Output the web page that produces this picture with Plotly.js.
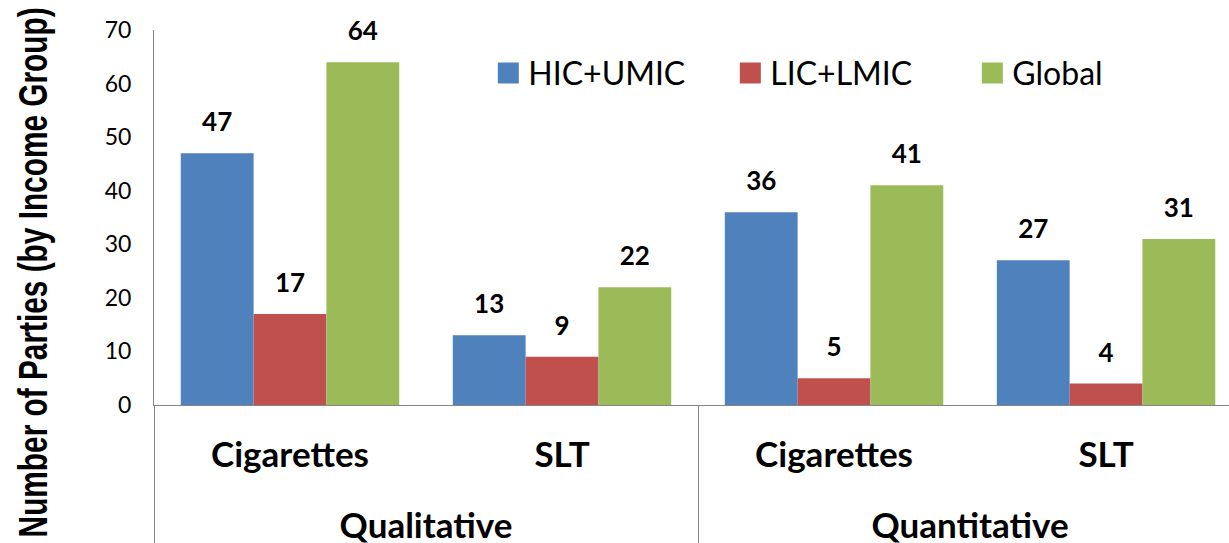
<!DOCTYPE html>
<html>
<head>
<meta charset="utf-8">
<script src="https://cdn.plot.ly/plotly-3.0.1.min.js"></script>
<style>html,body{margin:0;padding:0;background:#fff;}#chart{width:1229px;height:543px;}</style>
</head>
<body>
<div id="chart"></div>
<script>
// ---- data ----
const groups = ['Qualitative', 'Qualitative', 'Quantitative', 'Quantitative'];
const products = ['Cigarettes', 'SLT', 'Cigarettes', 'SLT'];
const seriesNames = ['HIC+UMIC', 'LIC+LMIC', 'Global'];
const hicUmic = [47, 13, 36, 27];
const licLmic = [17, 9, 5, 4];
const globalVals = [64, 22, 41, 31];
const yTitle = 'Number of Parties (by Income Group)';

// ---- styles ----
const colors = ['#4F81BD', '#C0504D', '#9BBB59'];
const axisColor = '#868686';
const mainFont = 'Lato, "Open Sans", sans-serif';
const seriesValues = [hicUmic, licLmic, globalVals];
// an empty second line under each inner label gives the two label rows the reference's spacing
const innerLabels = products.map(p => p + '<br>\u00a0');
const xCats = [groups, innerLabels];

const traces = [];
seriesValues.forEach((vals, i) => {
  traces.push({
    type: 'bar', name: seriesNames[i], x: xCats, y: vals,
    marker: { color: colors[i], line: { width: 0 } },
    showlegend: false, hoverinfo: 'skip'
  });
});
seriesValues.forEach((vals, i) => {
  traces.push({
    type: 'scatter', mode: 'markers+text', x: xCats, y: vals,
    orientation: 'v',
    text: vals.map(String), textposition: 'top center',
    textfont: { family: mainFont, size: 26, color: '#000', weight: 'bold' },
    marker: { size: 23, opacity: 0, color: colors[i] },
    cliponaxis: false, showlegend: false, hoverinfo: 'skip'
  });
});
// legend-only entries (drawn on a hidden subplot)
seriesNames.forEach((n, i) => {
  traces.push({
    type: 'scatter', mode: 'markers', name: n, x: [null], y: [null],
    xaxis: 'x2', yaxis: 'y2',
    marker: { symbol: 'square', size: 16, color: colors[i], line: { width: 5, color: colors[i] } },
    hoverinfo: 'skip'
  });
});

const layout = {
  width: 1229, height: 543,
  margin: { l: 154, r: 0, t: 30, b: 138 },
  paper_bgcolor: '#fff', plot_bgcolor: '#fff',
  barmode: 'group', bargap: 0.197, bargroupgap: 0,
  scattermode: 'group', scattergap: 0.197,
  font: { family: mainFont, color: '#000' },
  xaxis: {
    type: 'multicategory', range: [-0.5, 3.452],
    showline: true, linecolor: axisColor, linewidth: 1,
    ticks: '', showgrid: false, zeroline: false,
    showdividers: true, dividercolor: axisColor, dividerwidth: 1,
    ticklabelstandoff: 19,
    tickfont: { family: mainFont, size: 35, color: '#000', weight: 'bold' }
  },
  yaxis: {
    range: [0, 70], dtick: 10, showline: true, linecolor: axisColor, linewidth: 1,
    showgrid: false, zeroline: false, ticks: '', ticklabelstandoff: 17,
    tickfont: { family: mainFont, size: 23, color: '#000' }
  },
  xaxis2: { visible: false, overlaying: 'x', range: [0, 1] },
  yaxis2: { visible: false, overlaying: 'y', range: [0, 1] },
  showlegend: true,
  legend: {
    orientation: 'h', x: 0.311, xanchor: 'left', y: 0.885, yanchor: 'middle',
    font: { family: mainFont, size: 32, color: '#000' },
    entrywidth: 197, entrywidthmode: 'pixels', bgcolor: 'rgba(0,0,0,0)'
  },
  annotations: [{
    text: yTitle, textangle: -90, showarrow: false,
    xref: 'paper', yref: 'paper', x: (33 - 154) / 1075, y: (405 - 273) / 375,
    xanchor: 'center', yanchor: 'middle',
    font: { family: '"Liberation Sans", Arial, sans-serif', size: 40, color: '#000', weight: 'bold' }
  }]
};

Plotly.newPlot('chart', traces, layout, { displayModeBar: false, staticPlot: true }).then(gd => {
  // condense the axis title to the reference's narrow bold face
  gd.querySelectorAll('.annotation-text').forEach(t => {
    t.setAttribute('textLength', '530');
    t.setAttribute('lengthAdjust', 'spacingAndGlyphs');
  });
});
</script>
</body>
</html>
